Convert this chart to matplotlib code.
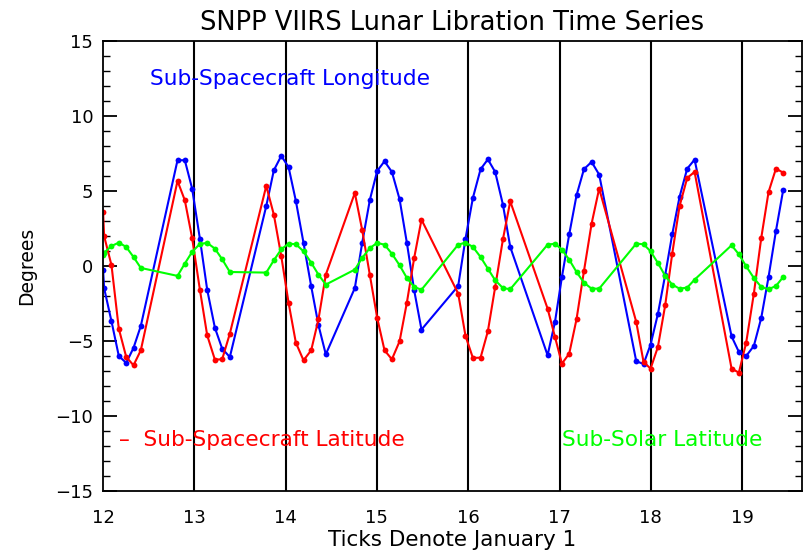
import matplotlib
matplotlib.use("Agg")
import matplotlib.pyplot as plt
import numpy as np

# ---- data ----
x_seg1 = [12.001, 12.012, 12.093, 12.173, 12.254, 12.334, 12.414]
x_seg2 = [12.816, 12.896, 12.976, 13.061, 13.141, 13.225, 13.305, 13.389]
x_seg3 = [13.788, 13.871, 13.952, 14.032, 14.112, 14.196, 14.280, 14.360, 14.440]
x_seg4 = [14.758, 14.839, 14.923, 15.003, 15.083, 15.164, 15.248, 15.328, 15.408, 15.488]
x_seg5 = [15.890, 15.970, 16.051, 16.135, 16.215, 16.295, 16.380, 16.460]
x_seg6 = [16.869, 16.950, 17.026, 17.106, 17.186, 17.267, 17.351, 17.434]
x_seg7 = [17.840, 17.920, 17.997, 18.077, 18.157, 18.234, 18.314, 18.398, 18.479]
x_seg8 = [18.884, 18.964, 19.044, 19.128, 19.209, 19.289, 19.370, 19.450]
time_years = x_seg1 + x_seg2 + x_seg3 + x_seg4 + x_seg5 + x_seg6 + x_seg7 + x_seg8

sc_longitude = [
    -0.29, -1.47, -3.69, -6.0, -6.46, -5.46, -4.0,
    7.05, 7.05, 5.16, 1.82, -1.58, -4.11, -5.51, -6.07,
    4.0, 6.38, 7.34, 6.60, 4.34, 1.54, -1.35, -3.95, -5.89,
    -1.47, 1.56, 4.42, 6.34, 6.98, 6.27, 4.45, 1.54, -1.62, -4.24,
    -1.33, 1.82, 4.54, 6.45, 7.11, 6.27, 4.09, 1.27,
    -5.95, -3.73, -0.73, 2.11, 4.71, 6.45, 6.94, 6.09,
    -6.35, -6.53, -5.24, -3.20, -0.6, 2.11, 4.6, 6.49, 7.09,
    -4.69, -5.73, -6.0, -5.33, -3.46, -0.73, 2.34, 5.09,
]
sc_latitude = [
    3.60, 2.0, 0.05, -4.18, -6.06, -6.62, -5.62,
    5.67, 4.38, 1.87, -1.58, -4.62, -6.24, -6.22, -4.51,
    5.34, 3.42, 0.67, -2.44, -5.11, -6.29, -5.62, -3.55, -0.58,
    4.87, 2.38, -0.62, -3.46, -5.62, -6.22, -5.02, -2.44, 0.54, 3.09,
    -1.84, -4.66, -6.13, -6.11, -4.35, -1.40, 1.78, 4.31,
    -2.84, -4.73, -6.51, -5.84, -3.55, -0.35, 2.82, 5.16,
    -3.73, -6.4, -6.84, -5.40, -2.62, 0.82, 3.98, 5.87, 6.27,
    -6.84, -7.11, -5.11, -1.84, 1.87, 4.93, 6.49, 6.22,
]
solar_latitude = [
    0.75, 0.88, 1.33, 1.56, 1.27, 0.60, -0.13,
    -0.66, 0.16, 0.94, 1.47, 1.54, 1.16, 0.45, -0.4,
    -0.44, 0.38, 1.11, 1.49, 1.45, 0.98, 0.22, -0.58, -1.24,
    -0.24, 0.54, 1.2, 1.54, 1.42, 0.82, 0.05, -0.8, -1.4, -1.58,
    1.42, 1.56, 1.27, 0.6, -0.18, -0.95, -1.47, -1.55,
    1.42, 1.49, 1.09, 0.42, -0.4, -1.11, -1.51, -1.51,
    1.49, 1.45, 0.98, 0.2, -0.66, -1.24, -1.51, -1.44, -0.91,
    1.38, 0.78, -0.02, -0.8, -1.4, -1.55, -1.33, -0.73,
]
year_ticks = [12, 13, 14, 15, 16, 17, 18, 19]
year_labels = ["12", "13", "14", "15", "16", "17", "18", "19"]
y_ticks = [-15, -10, -5, 0, 5, 10, 15]
y_labels = ["\u221215", "\u221210", "\u22125", "0", "5", "10", "15"]

plt.rcParams['font.family'] = ['DejaVu Sans']

fig = plt.figure(figsize=(8.06, 5.56), dpi=100)
ax = fig.add_axes([0.1278, 0.1169, 0.8672, 0.8094])

style = dict(linewidth=1.5, marker='o', markersize=4.2, markeredgewidth=0)
ax.plot(time_years, sc_longitude, color='#0000ff', **style)
ax.plot(time_years, sc_latitude, color='#ff0000', **style)
ax.plot(time_years, solar_latitude, color='#00ff00', **style)

for yr in year_ticks[1:]:
    ax.axvline(yr, color='black', linewidth=1.5, zorder=0.5)

ax.set_xlim(12, 19.655)
ax.set_ylim(-15, 15)
ax.set_xticks(year_ticks)
ax.set_xticklabels(year_labels)
ax.set_yticks(y_ticks)
ax.set_yticklabels(y_labels)
ax.set_yticks(np.arange(-15, 16, 1), minor=True)
ax.tick_params(axis='x', which='both', length=0, pad=13, labelsize=13)
ax.tick_params(axis='y', which='major', direction='in', length=10, width=1.3,
               left=True, right=True, pad=7, labelsize=13)
ax.tick_params(axis='y', which='minor', direction='in', length=5, width=1.0,
               left=True, right=True)
for sp in ax.spines.values():
    sp.set_linewidth(1.3)

ax.set_title("SNPP VIIRS Lunar Libration Time Series", fontsize=18.5, pad=8)
ax.set_xlabel("Ticks Denote January 1", fontsize=15.5, labelpad=2)
ax.set_ylabel("Degrees", fontsize=13.5, labelpad=14)

ax.text(12.52, 12.45, "Sub-Spacecraft Longitude", color='#0000ff', fontsize=15.6,
        ha='left', va='center')
ax.text(12.17, -11.6, "\u2013  Sub-Spacecraft Latitude", color='#ff0000', fontsize=15.6,
        ha='left', va='center')
ax.text(17.03, -11.6, "Sub-Solar Latitude", color='#00ff00', fontsize=15.6,
        ha='left', va='center')

fig.savefig("out.png", dpi=100)
